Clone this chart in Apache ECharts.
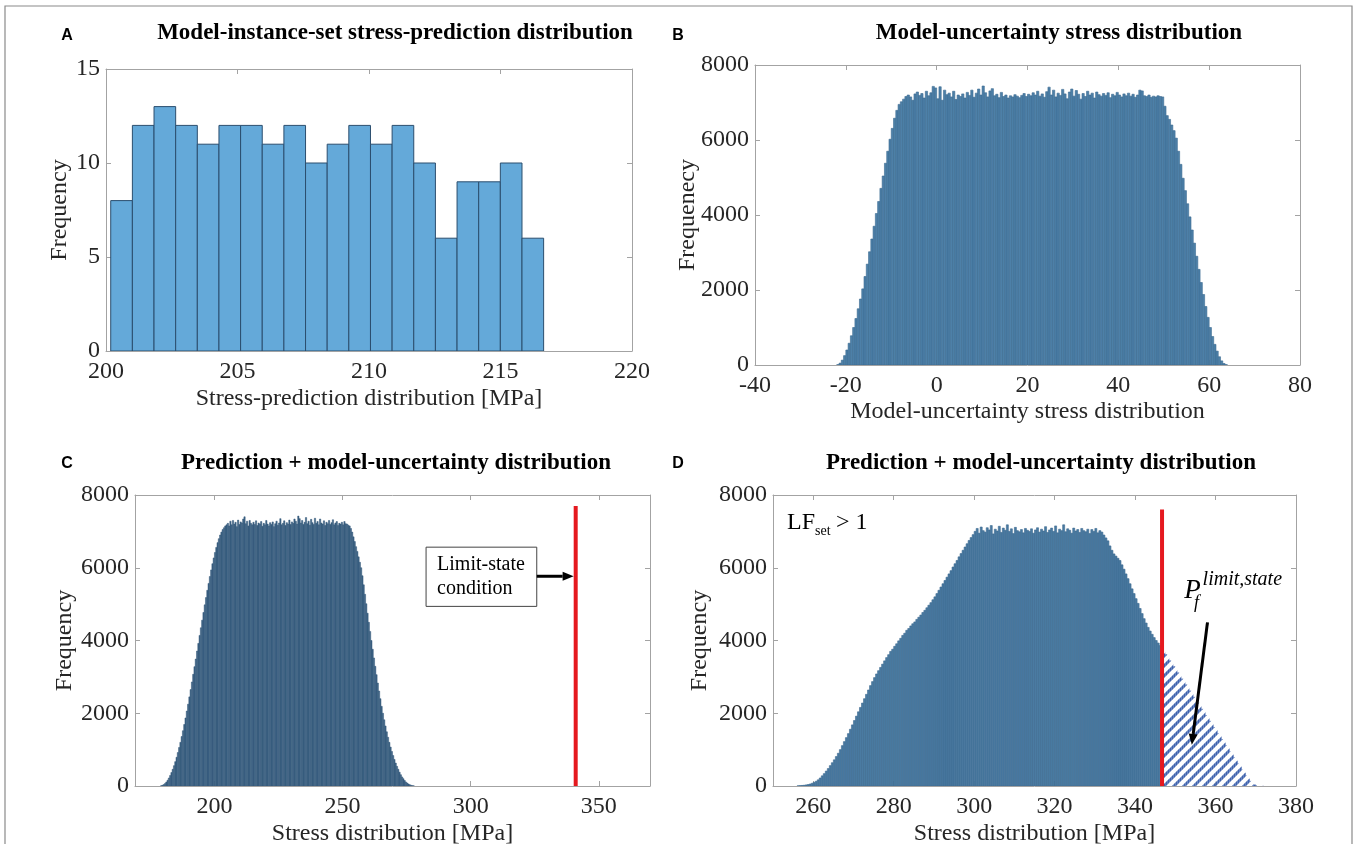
<!DOCTYPE html>
<html><head><meta charset="utf-8">
<script src="https://cdn.jsdelivr.net/npm/echarts@6/dist/echarts.min.js"></script>
<style>html,body{margin:0;padding:0;background:#fff}#c{width:1357px;height:844px}</style>
</head><body><div id="c"></div>
<script>
// ---------------- DATA ----------------
// Panel A: model-instance-set stress predictions (20 bins)
const A_BIN_START = 200.18, A_BIN_WIDTH = 0.823;
const aCounts = [8,12,13,12,11,12,12,11,12,10,11,12,11,12,10,6,9,9,10,6];

// Panel B: model-uncertainty distribution (bins of 0.5 starting at -22)
const B_BIN_START = -22, B_BIN_WIDTH = 0.5;
const bCounts = [
  10,50,130,250,400,580,780,1000,1240,1500,
  1760,2030,2360,2690,3020,3360,3700,4040,4360,4710,
  5040,5380,5700,6020,6310,6580,6790,6950,7020,7090,
  7160,7200,
  7150,7060,7230,7280,7190,7240,7120,7300,7180,7260,
  7430,7390,7100,7420,7060,7330,7210,7250,7150,7300,
  7080,7200,7160,7230,7120,7270,7190,7330,7140,7250,
  7360,7200,7440,7260,7150,7310,7370,7180,7220,7130,
  7270,7160,7200,7120,7180,7150,7210,7170,7130,7190,
  7240,7160,7220,7180,7260,7200,7300,7170,7230,7140,
  7290,7410,7200,7330,7150,7250,7190,7350,7230,7100,
  7280,7360,7170,7320,7220,7090,7240,7160,7300,7200,
  7250,7120,7280,7210,7170,7240,7190,7260,7130,7220,
  7180,7270,7200,7150,7230,7180,7250,7170,7220,7140,
  7200,7330,7310,7180,7160,7200,7140,7170,7150,7180,
  7160,
  7150,6900,6650,6550,6400,6250,6050,5700,5350,4980,
  4650,4300,3950,3600,3250,2900,2550,2200,1880,1560,
  1270,1000,760,550,370,220,110,40,10
];

// Panel C: prediction + model uncertainty (bins of 0.5 starting at 179)
const C_BIN_START = 179, C_BIN_WIDTH = 0.5;
const cCounts = [
  10,20,40,70,110,160,220,290,370,460,
  560,670,790,920,1060,1200,1360,1520,1690,1870,
  2060,2250,2450,2650,2860,3070,3280,3490,3710,3920,
  4140,4350,4560,4770,4980,5180,5380,5570,5760,5940,
  6110,6270,6420,6560,6690,6800,6900,6980,7050,7100,
  7150,7180,
  7220,7150,7280,7180,7300,7200,7250,7130,7310,7190,
  7260,7230,7340,7400,7210,7280,7150,7300,7220,7180,
  7250,7190,7290,7160,7230,7200,7270,7140,7220,7180,
  7300,7200,7150,7240,7190,7260,7130,7210,7280,7170,
  7230,7350,7180,7220,7290,7160,7240,7200,7310,7190,
  7260,7220,7340,7280,7200,7420,7350,7230,7300,7190,
  7250,7380,7210,7280,7170,7330,7240,7190,7360,7220,
  7270,7180,7340,7230,7200,7290,7160,7250,7210,7300,
  7190,7240,7320,7180,7230,7270,7160,7220,7200,7250,
  7180,7270,7210,7200,7170,
  7150,7080,6980,6850,6720,6580,6450,6300,6150,6000,
  5780,5530,5270,5010,4750,4500,4250,4000,3760,3520,
  3290,3060,2830,2610,2400,2190,2000,1820,1650,1490,
  1340,1200,1070,950,840,730,630,540,460,380,
  310,250,200,150,110,80,55,35,20,10,
  5
];
const C_LIMIT = 341, C_LIMIT_TOP = 7700;

// Panel D: prediction + model uncertainty, LF_set > 1 (bins of 0.5 starting at 256)
const D_BIN_START = 256, D_BIN_WIDTH = 0.5;
const dCounts = [
  5,10,15,20,30,40,55,75,100,130,
  170,220,280,340,410,480,560,640,720,810,
  900,1000,1110,1220,1330,1440,1560,1680,1800,1920,
  2040,2160,2280,2400,2520,2640,2760,2870,2980,3080,
  3170,3260,3350,3440,3530,3610,3700,3760,3840,3910,
  3990,4060,4140,4200,4280,4330,4400,4460,4510,4580,
  4640,4700,4770,4830,4900,4970,5040,5120,5200,5290,
  5380,5470,5560,5650,5740,5830,5920,6020,6110,6200,
  6300,6390,6480,6570,6660,6750,6830,6910,
  7000,7080,6950,7120,7020,6980,7100,7040,7160,6930,
  7060,7010,7140,6970,7090,7030,7180,7000,7070,6940,
  7110,7020,6990,7050,6960,7080,7030,7000,7070,6950,
  7040,7100,6980,7060,7010,7130,6970,7040,7090,7000,
  7150,6960,7060,7020,7180,6990,7070,7030,6950,7090,
  7010,7050,6970,7080,7020,6990,7060,6940,7050,7000,
  7080,6960,7020,6980,
  6900,6820,6740,6600,6480,6380,6320,6260,6200,6080,
  5960,5830,5700,5560,5420,5290,5150,5020,4880,4740,
  4600,4480,4360,4260,4170,4080,4000,3930,3860,3790,
  3700,3620,3540,3450,3370,3290,3200,3120,3040,2950,
  2870,2790,2700,2620,2540,2450,2370,2290,2200,2120,
  2040,1950,1870,1790,1700,1620,1540,1450,1370,1290,
  1200,1120,1040,950,870,790,700,620,540,450,
  370,290,210,140,80,40,25,15,10,5
];
const D_LIMIT = 346.7, D_LIMIT_TOP = 7600;

// axis ticks
const aTicksX = [200,205,210,215,220], aTicksY = [0,5,10,15];
const bTicksX = [-40,-20,0,20,40,60,80], bTicksY = [0,2000,4000,6000,8000];
const cTicksX = [200,250,300,350], cTicksY = [0,2000,4000,6000,8000];
const dTicksX = [260,280,300,320,340,360,380], dTicksY = [0,2000,4000,6000,8000];

// ---------------- CHART ----------------
const SERIF = '"Liberation Serif","Times New Roman",serif';
const SANS = '"Liberation Sans",Arial,sans-serif';
const AX = '#a3a3a3', TXT = '#262626';
const chart = echarts.init(document.getElementById('c'), null, {renderer: 'canvas'});

const grids = [
  {left: 106, top: 69, width: 526, height: 282},
  {left: 755, top: 65, width: 545, height: 300},
  {left: 135, top: 495, width: 515, height: 291},
  {left: 773, top: 495, width: 523, height: 291}
];
const plain = v => String(v);

function xPair(gi, min, max, ticks, name, gap) {
  const base = {
    type: 'value', gridIndex: gi, min: min, max: max,
    axisLine: {show: true, onZero: false, lineStyle: {color: AX, width: 1}},
    axisTick: {show: true, inside: true, length: 5, customValues: ticks, lineStyle: {color: AX}},
    splitLine: {show: false}
  };
  return [
    Object.assign({}, base, {position: 'bottom',
      axisLabel: {customValues: ticks, formatter: plain, fontFamily: SERIF, fontSize: 24, color: TXT, margin: 9},
      name: name, nameLocation: 'middle', nameGap: gap, nameMoveOverlap: false,
      nameTextStyle: {fontFamily: SERIF, fontSize: 24, color: TXT}}),
    Object.assign({}, base, {position: 'top', axisLabel: {show: false}})
  ];
}
function yPair(gi, min, max, ticks, name, gap) {
  const base = {
    type: 'value', gridIndex: gi, min: min, max: max,
    axisLine: {show: true, onZero: false, lineStyle: {color: AX, width: 1}},
    axisTick: {show: true, inside: true, length: 5, customValues: ticks, lineStyle: {color: AX}},
    splitLine: {show: false}
  };
  return [
    Object.assign({}, base, {position: 'left',
      axisLabel: {customValues: ticks, formatter: plain, fontFamily: SERIF, fontSize: 24, color: TXT, margin: 6},
      name: name, nameLocation: 'middle', nameGap: gap, nameRotate: 90, nameMoveOverlap: false,
      nameTextStyle: {fontFamily: SERIF, fontSize: 24, color: TXT}}),
    Object.assign({}, base, {position: 'right', axisLabel: {show: false}})
  ];
}

const xAxis = [].concat(
  xPair(0, 200, 220, aTicksX, 'Stress-prediction distribution [MPa]', 36),
  xPair(1, -40, 80, bTicksX, 'Model-uncertainty stress distribution', 35),
  xPair(2, 169, 370, cTicksX, 'Stress distribution [MPa]', 36),
  xPair(3, 250, 380, dTicksX, 'Stress distribution [MPa]', 36)
);
const yAxis = [].concat(
  yPair(0, 0, 15, aTicksY, 'Frequency', 34),
  yPair(1, 0, 8000, bTicksY, 'Frequenecy', 55),
  yPair(2, 0, 8000, cTicksY, 'Frequency', 58),
  yPair(3, 0, 8000, dTicksY, 'Frequency', 61)
);

// hatch pattern for the failure-probability region
const pc = document.createElement('canvas');
pc.width = 10; pc.height = 10;
(function(){
  const g = pc.getContext('2d');
  g.fillStyle = '#ffffff'; g.fillRect(0,0,10,10);
  g.strokeStyle = '#3f63ae'; g.lineWidth = 3;
  g.beginPath();
  g.moveTo(-2,12); g.lineTo(12,-2);
  g.moveTo(-2,2); g.lineTo(2,-2);
  g.moveTo(8,12); g.lineTo(12,8);
  g.stroke();
})();
const HATCH = {image: pc, repeat: 'repeat'};

function binData(start, width, counts) {
  return counts.map((c, i) => [start + i * width, start + (i + 1) * width, c]);
}
function histSeries(pi, data, styleFn) {
  return {
    type: 'custom', xAxisIndex: 2 * pi, yAxisIndex: 2 * pi,
    data: data, encode: {x: [0, 1], y: 2}, silent: true, clip: true,
    renderItem: function (params, api) {
      const x0 = api.value(0), x1 = api.value(1), v = api.value(2);
      const p0 = api.coord([x0, v]), p1 = api.coord([x1, 0]);
      return {type: 'rect',
        shape: {x: p0[0], y: p0[1], width: p1[0] - p0[0], height: p1[1] - p0[1]},
        style: styleFn(x0, v)};
    }
  };
}
function limitLine(pi, x, top) {
  return {type: 'line', xAxisIndex: 2 * pi, yAxisIndex: 2 * pi, silent: true,
    data: [[x, 0], [x, top]], symbol: 'none', animation: false,
    lineStyle: {color: '#e5191f', width: 4}, z: 5};
}

const series = [
  histSeries(0, binData(A_BIN_START, A_BIN_WIDTH, aCounts),
    () => ({fill: '#64a9d9', stroke: '#2b4e6e', lineWidth: 1})),
  histSeries(1, binData(B_BIN_START, B_BIN_WIDTH, bCounts),
    () => ({fill: '#4d80a8', stroke: '#3b6990', lineWidth: 0.6})),
  histSeries(2, binData(C_BIN_START, C_BIN_WIDTH, cCounts),
    () => ({fill: '#3c6283', stroke: '#34597a', lineWidth: 0.5})),
  histSeries(3, binData(D_BIN_START, D_BIN_WIDTH, dCounts),
    (x0) => x0 >= D_LIMIT ? {fill: HATCH, stroke: null} : {fill: '#4a7ba2', stroke: '#3c6a91', lineWidth: 0.6}),
  limitLine(2, C_LIMIT, C_LIMIT_TOP),
  limitLine(3, D_LIMIT, D_LIMIT_TOP)
];

chart.setOption({
  animation: false,
  backgroundColor: '#ffffff',
  grid: grids.map(g => Object.assign({show: false, containLabel: false, outerBoundsMode: 'none'}, g)),
  xAxis: xAxis, yAxis: yAxis, series: series
});

// ---------------- ANNOTATIONS ----------------
function P(pi, x, y) { return chart.convertToPixel({xAxisIndex: 2 * pi, yAxisIndex: 2 * pi}, [x, y]); }
function arrow(a, b) {
  const dx = b[0] - a[0], dy = b[1] - a[1], L = Math.sqrt(dx*dx + dy*dy);
  const ux = dx / L, uy = dy / L, hl = 11, hw = 4.5;
  const bx = b[0] - ux * hl, by = b[1] - uy * hl;
  return [
    {type: 'line', shape: {x1: a[0], y1: a[1], x2: bx, y2: by}, style: {stroke: '#000', lineWidth: 3}, z: 20},
    {type: 'polygon', shape: {points: [[b[0], b[1]], [bx - uy * hw, by + ux * hw], [bx + uy * hw, by - ux * hw]]},
      style: {fill: '#000'}, z: 20}
  ];
}
function txt(x, y, s, font, align, extra) {
  return {type: 'text', x: x, y: y, z: 30,
    style: Object.assign({text: s, font: font, fill: '#000', textAlign: align || 'left', textVerticalAlign: 'middle'}, extra || {})};
}

const g = [];
// outer frame
g.push({type: 'rect', shape: {x: 5, y: 6, width: 1347, height: 860}, style: {fill: 'none', stroke: '#8a8a8a', lineWidth: 1.2}, z: 1});
// panel letters
g.push(txt(67, 36, 'A', 'bold 16px ' + SANS, 'center'));
g.push(txt(678, 36, 'B', 'bold 16px ' + SANS, 'center'));
g.push(txt(67, 464, 'C', 'bold 16px ' + SANS, 'center'));
g.push(txt(678, 464, 'D', 'bold 16px ' + SANS, 'center'));
// titles
g.push(txt(395, 33, 'Model-instance-set stress-prediction distribution', 'bold 23px ' + SERIF, 'center'));
g.push(txt(1059, 33, 'Model-uncertainty stress distribution', 'bold 23px ' + SERIF, 'center'));
g.push(txt(396, 463, 'Prediction + model-uncertainty distribution', 'bold 23px ' + SERIF, 'center'));
g.push(txt(1041, 463, 'Prediction + model-uncertainty distribution', 'bold 23px ' + SERIF, 'center'));

// Panel C: limit-state box + arrow
const b0 = P(2, 282.6, 6566), b1 = P(2, 325.8, 4938);
g.push({type: 'rect', shape: {x: b0[0], y: b0[1], width: b1[0] - b0[0], height: b1[1] - b0[1]},
  style: {fill: '#fff', stroke: '#444', lineWidth: 1}, z: 15});
g.push(txt(b0[0] + 11, b0[1] + 18, 'Limit-state', '20px ' + SERIF, 'left'));
g.push(txt(b0[0] + 11, b0[1] + 42, 'condition', '20px ' + SERIF, 'left'));
arrow(P(2, 325.8, 5766), P(2, C_LIMIT - 0.8, 5766)).forEach(e => g.push(e));

// Panel D: LF_set > 1
const lf = P(3, 253.5, 7250);
g.push(txt(lf[0], lf[1], 'LF', '24px ' + SERIF, 'left'));
g.push(txt(lf[0] + 28, lf[1] + 9, 'set', '14px ' + SERIF, 'left'));
g.push(txt(lf[0] + 49, lf[1], '> 1', '24px ' + SERIF, 'left'));
// P_f^{limit,state}
const pf = P(3, 354.3, 5350);
g.push(txt(pf[0], pf[1], 'P', 'italic 27px ' + SERIF, 'center'));
g.push(txt(pf[0] + 10, pf[1] - 12, 'limit,state', 'italic 20px ' + SERIF, 'left'));
g.push(txt(pf[0] + 4, pf[1] + 12, 'f', 'italic 18px ' + SERIF, 'center'));
arrow(P(3, 358.0, 4497), P(3, 354.1, 1131)).forEach(e => g.push(e));

chart.setOption({graphic: g});
</script>
</body></html>
